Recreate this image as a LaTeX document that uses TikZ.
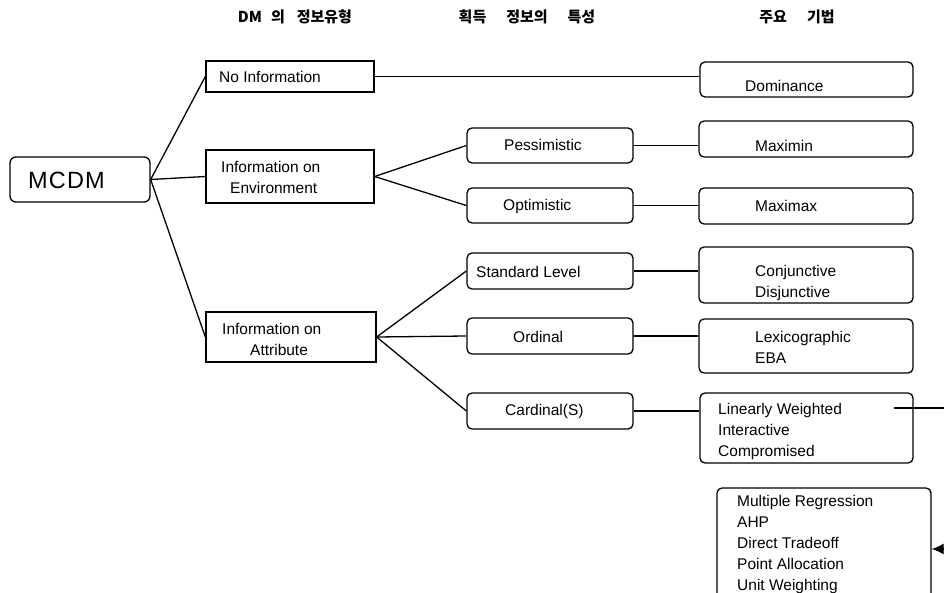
\documentclass[tikz,border=0pt]{standalone}
\usepackage{fontspec}
\setmainfont{Liberation Sans}
\newfontfamily\krfont{Noto Sans CJK KR}
\usetikzlibrary{arrows.meta}

\tikzset{
  plainbox/.style={draw, line width=1.3pt, inner sep=0pt},
  roundbox/.style={plainbox, rounded corners=5pt},
  lbl/.style={anchor=west, inner sep=0pt, align=left, font=\fontsize{15.5}{21}\selectfont},
  head/.style={inner sep=0pt, font=\krfont\bfseries\fontsize{15}{17}\selectfont},
  link/.style={line width=1.3pt}
}

\begin{document}
\begin{tikzpicture}[x=1pt, y=-1pt]
  \useasboundingbox (0,0) rectangle (944,593);
  \clip (0,0) rectangle (944,593);

  % column headings
  \node[head] (h1) at (295,17) {DM\hspace{9pt}의\hspace{12pt}정보유형};
  \node[head] (h2) at (527,17) {획득\hspace{20pt}정보의\hspace{20pt}특성};
  \node[head] (h3) at (797,17) {주요\hspace{20pt}기법};

  % root
  \node[roundbox, rounded corners=6pt, minimum width=140pt, minimum height=45pt] (mcdm) at (80,179.5) {};
  \node[anchor=west, inner sep=0pt, font=\addfontfeature{LetterSpace=5}\fontsize{23.5}{26}\selectfont] (mcdmtxt) at (28,180) {MCDM};

  % DM information type
  \node[plainbox, minimum width=168pt, minimum height=31pt] (noinfo) at (290,76.5) {};
  \node[lbl] (noinfotxt) at (219,77) {No Information};
  \node[plainbox, minimum width=168pt, minimum height=53pt] (env) at (290,176.5) {};
  \node[lbl] (envtxt) at (221,177) {Information on\\\hspace*{9pt}Environment};
  \node[plainbox, minimum width=170pt, minimum height=50pt] (attr) at (291,337) {};
  \node[lbl] (attrtxt) at (222,339) {Information on\\\hspace*{28pt}Attribute};

  % acquired information
  \node[roundbox, minimum width=166pt, minimum height=35pt] (pess) at (550,145.5) {};
  \node[lbl] (pesstxt) at (504,145) {Pessimistic};
  \node[roundbox, minimum width=166pt, minimum height=35pt] (opt) at (550,205.5) {};
  \node[lbl] (opttxt) at (503,206) {Optimistic};
  \node[roundbox, minimum width=166pt, minimum height=36pt] (std) at (550,271) {};
  \node[lbl] (stdtxt) at (476,272) {Standard Level};
  \node[roundbox, minimum width=166pt, minimum height=36pt] (ord) at (550,336) {};
  \node[lbl] (ordtxt) at (513,337) {Ordinal};
  \node[roundbox, minimum width=166pt, minimum height=36pt] (card) at (550,411) {};
  \node[lbl] (cardtxt) at (505,411) {Cardinal(S)};

  % main techniques
  \node[roundbox, minimum width=213pt, minimum height=35pt] (dom) at (806.5,79.5) {};
  \node[lbl] (domtxt) at (745,86) {Dominance};
  \node[roundbox, minimum width=214pt, minimum height=36pt] (maxmin) at (806,139) {};
  \node[lbl] (maxmintxt) at (755,146) {Maximin};
  \node[roundbox, minimum width=214pt, minimum height=36pt] (maxmax) at (806,206) {};
  \node[lbl] (maxmaxtxt) at (755,206) {Maximax};
  \node[roundbox, minimum width=214pt, minimum height=56pt] (conj) at (806,275) {};
  \node[lbl] (conjtxt) at (755,282.5) {Conjunctive\\Disjunctive};
  \node[roundbox, minimum width=214pt, minimum height=54pt] (lex) at (806,346) {};
  \node[lbl] (lextxt) at (755,347.5) {Lexicographic\\EBA};
  \node[roundbox, minimum width=213pt, minimum height=70pt] (lw) at (806.5,428) {};
  \node[lbl] (lwtxt) at (718,431) {Linearly Weighted\\Interactive\\Compromised};
  \node[roundbox, minimum width=214pt, minimum height=122pt] (mr) at (824,549) {};
  \node[lbl] (mrtxt) at (737,544) {Multiple Regression\\AHP\\Direct Tradeoff\\Point Allocation\\Unit Weighting};

  % branches
  \foreach \a/\b in {mcdm/noinfo, mcdm/env, mcdm/attr, env/pess, env/opt, attr/std, attr/ord, attr/card} {
    \draw[link] (\a.east) -- (\b.west);
  }
  \foreach \a/\b in {noinfo/dom, pess/maxmin, opt/maxmax, std/conj, ord/lex, card/lw} {
    \draw[link] (\a.east) -- (\a.east -| \b.west);
  }

  % weights feed back into the lower box
  \coordinate (lwtap) at (894,408);
  \coordinate (offright) at (960,408);
  \draw[link, -{Latex[length=12pt, width=11pt]}] (lwtap) -- (offright) |- (mr.east);
\end{tikzpicture}
\end{document}
